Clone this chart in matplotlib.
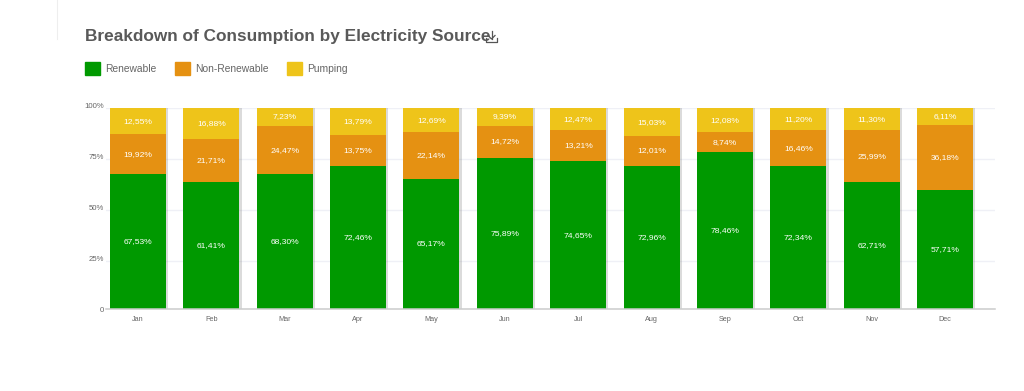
import matplotlib
matplotlib.use('Agg')
import matplotlib.pyplot as plt
import matplotlib.patheffects as pe
from matplotlib.lines import Line2D
from matplotlib.patches import Patch
from matplotlib.transforms import ScaledTranslation
import numpy as np

months = ['Jan', 'Feb', 'Mar', 'Apr', 'May', 'Jun', 'Jul', 'Aug', 'Sep', 'Oct', 'Nov', 'Dec']

# segment heights
renewable = [67.5, 63.7, 67.5, 71.5, 65.5, 75.5, 74.0, 71.7, 78.4, 71.5, 63.9, 59.9]
non_renewable = [19.8, 21.1, 24.0, 15.3, 22.9, 16.0, 15.2, 14.7, 10.0, 17.7, 25.3, 31.8]
pumping = [12.7, 15.2, 8.5, 13.2, 11.6, 8.5, 10.8, 13.6, 11.6, 10.8, 10.8, 8.3]

# printed labels
renewable_labels = ['67,53%', '61,41%', '68,30%', '72,46%', '65,17%', '75,89%',
                    '74,65%', '72,96%', '78,46%', '72,34%', '62,71%', '57,71%']
non_renewable_labels = ['19,92%', '21,71%', '24,47%', '13,75%', '22,14%', '14,72%',
                        '13,21%', '12,01%', '8,74%', '16,46%', '25,99%', '36,18%']
pumping_labels = ['12,55%', '16,88%', '7,23%', '13,79%', '12,69%', '9,39%',
                  '12,47%', '15,03%', '12,08%', '11,20%', '11,30%', '6,11%']

y_ticks = [25, 50, 75, 100]
y_tick_labels = ['25%', '50%', '75%', '100%']

GREEN = '#009900'
ORANGE = '#e59112'
YELLOW = '#eec41a'
FONT = 'Liberation Sans'
W, H = 1024, 391

plt.rcParams['font.family'] = FONT


def fx(px):
    return px / W


def fy(px):
    return 1 - px / H


fig = plt.figure(figsize=(W / 100, H / 100), dpi=100)
ax = fig.add_axes([fx(106), fy(309.3), fx(995) - fx(106), fy(108.3) - fy(309.3)])

floor = 1.3  # the axis line sits a little above the true zero
x = np.arange(len(months))
green = np.array(renewable)
orange = np.array(non_renewable)
yellow = np.array(pumping)
shadow = [pe.SimplePatchShadow(offset=(1.6, 0), shadow_rgbFace='#888888', alpha=0.3), pe.Normal()]

b1 = ax.bar(x, green - floor, 0.763, bottom=floor, color=GREEN, path_effects=shadow, zorder=3)
b2 = ax.bar(x, orange, 0.763, bottom=green, color=ORANGE, path_effects=shadow, zorder=3)
b3 = ax.bar(x, yellow, 0.763, bottom=green + orange, color=YELLOW, path_effects=shadow, zorder=3)

for bars, labels in ((b1, renewable_labels), (b2, non_renewable_labels), (b3, pumping_labels)):
    ax.bar_label(bars, labels=labels, label_type='center', color='white', fontsize=6.1, zorder=4)

ax.set_xlim(-0.436, 11.68)
ax.set_ylim(floor, 100)
ax.set_xticks(x)
ax.set_xticklabels(months)
ax.set_yticks([floor] + y_ticks)
ax.set_yticklabels(['0'] + y_tick_labels)
ax.tick_params(axis='x', length=0, pad=4.5, labelsize=5.2, labelcolor='#666666')
ax.tick_params(axis='y', length=0, pad=1.5, labelsize=5.6, labelcolor='#666666')
offset = ScaledTranslation(0, 3 / 72 * 0.72 * 100 / 100, fig.dpi_scale_trans)
for label in ax.get_yticklabels()[1:]:
    label.set_transform(label.get_transform() + ScaledTranslation(0, 3 / 100, fig.dpi_scale_trans))

ax.grid(axis='y', color='#eff0f6', linewidth=1, zorder=0)
ax.set_axisbelow(True)
for side in ('top', 'right', 'left'):
    ax.spines[side].set_visible(False)
ax.spines['bottom'].set_color('#cccccc')
ax.spines['bottom'].set_linewidth(1.1)
ax.spines['bottom'].set_zorder(5)

fig.text(fx(85), fy(36), 'Breakdown of Consumption by Electricity Source', fontsize=12.4,
         fontweight='bold', color='#595959', va='center', ha='left')

handles = [Patch(color=GREEN, label='Renewable'), Patch(color=ORANGE, label='Non-Renewable'),
           Patch(color=YELLOW, label='Pumping')]
fig.legend(handles=handles, loc='center left', bbox_to_anchor=(fx(85), fy(68.5)), ncol=3, frameon=False,
           borderpad=0, borderaxespad=0, handlelength=1.45, handleheight=1.45, handletextpad=0.55,
           columnspacing=1.75, fontsize=7.4, labelcolor='#666666')

# download icon and the faint rule at the top left
icon = '#555555'
for xs, ys in (([491.5, 491.5], [31, 39]), ([488, 491.5, 495], [35.5, 39, 35.5]),
               ([486, 486, 497, 497], [38, 41.5, 41.5, 38])):
    fig.add_artist(Line2D([fx(v) for v in xs], [fy(v) for v in ys], color=icon, linewidth=0.9))
fig.add_artist(Line2D([fx(57), fx(57)], [fy(0), fy(39)], color='#eeeeee', linewidth=0.8))

fig.savefig('out.png', dpi=100)
